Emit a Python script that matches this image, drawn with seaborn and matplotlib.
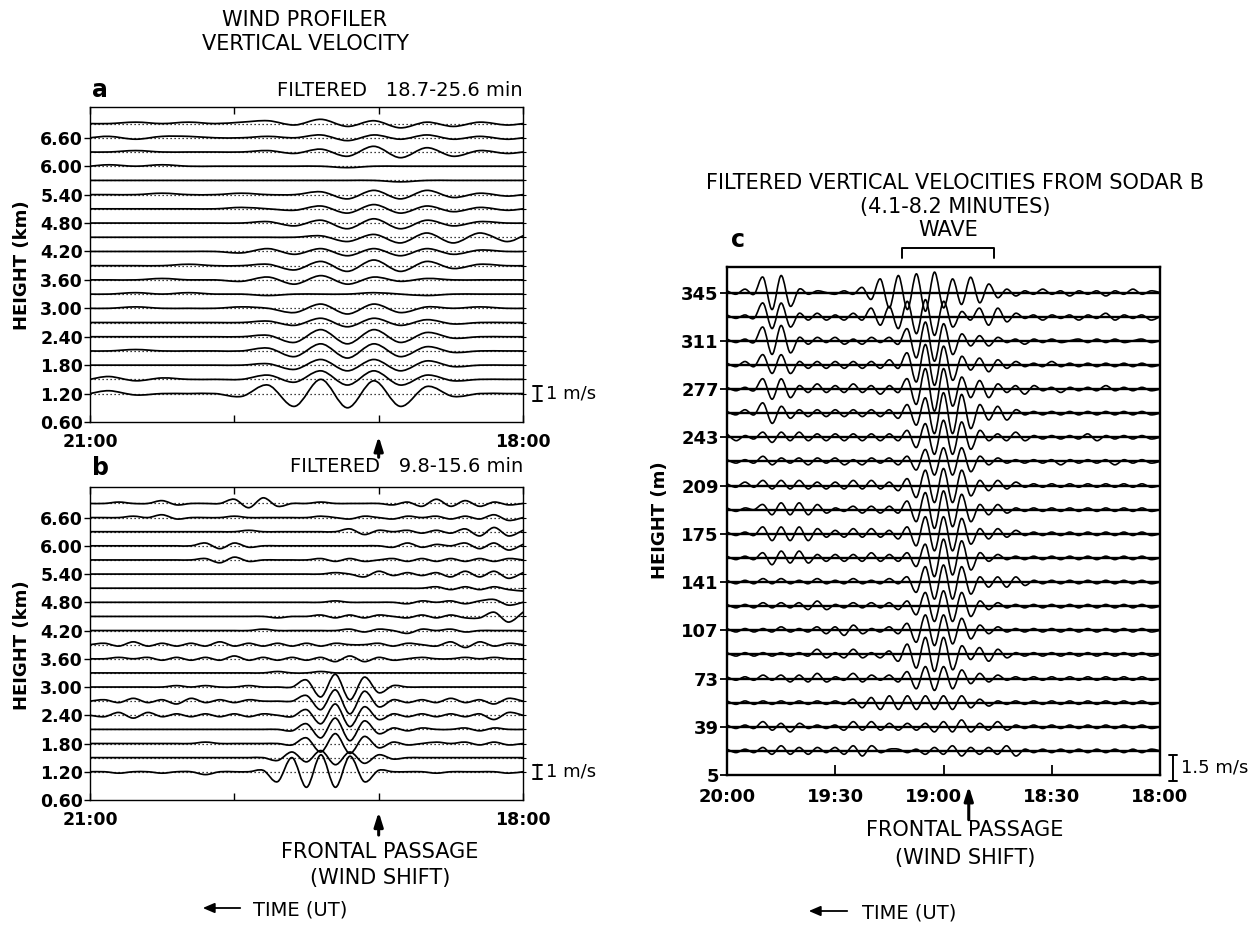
import matplotlib
matplotlib.use("Agg")
import matplotlib.pyplot as plt
import matplotlib.transforms as mtransforms
from matplotlib.path import Path
from matplotlib.patches import PathPatch, FancyArrowPatch
import numpy as np
import pandas as pd
import seaborn as sns

W, H = 1256, 932

# ---------------- data ----------------
# time = minutes after 18:00 UT (axes run right-to-left)
time_a = [180, 172, 161, 150, 139, 128, 117, 106, 95, 84, 73, 62, 51, 40, 29, 18, 7, 0]
time_b = [180 - 6 * j for j in range(31)]
time_c = [120 - 2.5 * k for k in range(49)]

heights_ab = [6.90, 6.60, 6.30, 6.00, 5.70, 5.40, 5.10, 4.80, 4.50, 4.20,
              3.90, 3.60, 3.30, 3.00, 2.70, 2.40, 2.10, 1.80, 1.50, 1.20]
height_ticks_ab = [0.60, 1.20, 1.80, 2.40, 3.00, 3.60, 4.20, 4.80, 5.40, 6.00, 6.60]
heights_c = [345, 328, 311, 294, 277, 260, 243, 226, 209, 192,
             175, 158, 141, 124, 107, 90, 73, 56, 39, 22]
height_ticks_c = [5, 39, 73, 107, 141, 175, 209, 243, 277, 311, 345]

time_ticks_ab = [180, 120, 60, 0]
time_labels_ab = ["21:00", "", "", "18:00"]
time_ticks_c = [120, 90, 60, 30, 0]
time_labels_c = ["20:00", "19:30", "19:00", "18:30", "18:00"]

FRONT_AB = 60      # frontal passage (minutes after 18:00)
FRONT_C = 53
WAVE_START, WAVE_END = 71.5, 46

# vertical velocity, units of 0.1 m/s  -- panel a (18.7-25.6 min)
a690 = [0, 0, 1, 0, 1, 0, 1, 2, -1, 3, -2, 2, -3, 1, -2, 1, -1, 0]
a660 = [0, 1, -1, 1, 1, 0, 0, 1, 0, 2, -2, 2, -1, 2, -1, 1, -1, 0]
a630 = [0, 0, 1, 0, 0, 0, 0, 1, -1, 2, -3, 4, -4, 3, -3, 1, -1, 0]
a600 = [0, 1, 0, 1, 0, 0, 0, 0, 0, 0, -1, 0, 0, 0, 0, 0, 0, 0]
a570 = [0, 0, 0, 0, 0, 0, 0, 0, 0, 0, 0, 0, -1, 0, 0, 0, 0, 0]
a540 = [0, 0, 0, 1, 0, 0, 1, 0, 0, 2, -3, 3, -3, 3, -2, 1, -1, 0]
a510 = [0, 0, 0, 0, 0, 0, 1, 0, -1, 2, -3, 3, -3, 2, -2, 1, -1, 0]
a480 = [0, 0, 0, 0, 0, 0, 0, 1, -2, 2, -4, 3, -4, 2, -2, 1, 0, 0]
a450 = [0, 0, 0, 0, 0, 0, 0, 0, 0, 1, -3, 2, -4, 3, -4, 3, -3, 1]
a420 = [0, 0, 0, 0, 0, 0, -1, 2, -2, 2, -3, 2, -3, 2, -2, 1, 0, 0]
a390 = [0, 0, 0, 0, 1, 0, 0, 1, -3, 3, -4, 4, -4, 3, -2, 1, 0, 0]
a360 = [0, 0, 0, 1, 0, 0, -1, 2, -3, 3, -3, 2, -1, 1, 0, 0, 0, 0]
a330 = [0, 0, 1, 0, 1, 0, 0, -1, 0, 0, 0, 1, 0, -1, 0, 0, 0, 0]
a300 = [0, 0, 1, 0, 0, 0, 1, 0, -3, 3, -4, 3, -3, 1, 0, 1, 0, 0]
a270 = [0, 0, 0, 0, 0, 0, 0, 1, -2, 3, -3, 3, -2, 2, -1, 0, 0, 0]
a240 = [0, 0, 0, 0, 0, 0, 0, 1, -4, 5, -5, 5, -4, 3, -1, 0, 0, 0]
a210 = [0, 0, 1, 0, 0, 0, 0, 2, -4, 5, -5, 5, -4, 3, -1, 0, 0, 0]
a180 = [0, 0, 0, 0, 0, 0, 0, 1, -3, 4, -4, 4, -4, 3, -1, 0, 0, 0]
a150 = [0, 2, -1, 1, 0, 0, 0, 3, -2, 6, -4, 6, -4, 3, -1, 0, 0, 0]
a120 = [0, 2, -1, 0, 0, 0, -2, 6, -9, 10, -10, 9, -9, 5, -2, 0, 0, 0]

# panel b (9.8-15.6 min)
b690 = [0, 0, 1, 0, 0, 2, -1, 0, 0, 0, 3, -3, 4, -2, 0, 0, 1, 0, 0, 0, 0, -1, 1, -2, 3, -2, 2, -2, 1, -1, 0]
b660 = [0, 0, 0, 1, 0, 2, -1, 0, 0, 0, 1, 0, 0, 0, 0, 0, 1, 0, -1, 1, 0, -1, 1, 0, 1, -1, 1, -1, 2, -2, 0]
b630 = [0, 0, 0, 0, 0, 0, 0, 0, 0, 0, 0, 1, 0, 0, 0, 0, 0, 0, 2, -2, 1, 0, 1, -1, 1, -1, 2, -3, 3, -3, 1]
b600 = [0, 0, 0, 0, 0, 0, 0, 0, 2, -2, 2, -1, 0, 0, 0, 0, 0, 0, 0, 0, 0, -1, 2, -1, 1, 0, 2, -2, 2, -3, 1]
b570 = [0, 0, 0, 0, 0, 0, 0, 0, 1, -2, 2, -1, 0, 0, 0, 0, 1, -1, 1, -1, 0, 1, -1, 1, -1, 1, -1, 1, -1, 1, 0]
b540 = [0, 0, 0, 0, 0, 0, 0, 0, 0, 0, 0, 0, 0, 0, 0, 0, 0, 1, 0, -2, 2, -1, 1, -1, 1, -2, 2, -2, 2, -3, 1]
b510 = [0, 0, 0, 0, 0, 0, 0, 0, 0, 0, 0, 0, 0, 0, 0, 0, 0, 0, 0, 0, 0, 0, 0, 0, 1, -1, 1, -1, 1, -1, -2]
b480 = [0, 0, 0, 0, 0, 0, 0, 0, 0, 0, 0, 0, 0, 0, 0, 0, 0, 1, 0, 0, 0, 0, -1, 1, 0, 1, -1, 1, 2, -2, 0]
b450 = [0, 0, 0, 0, 0, 0, 0, 0, 0, 0, 0, 0, 0, -1, 0, 0, 1, -1, 1, -1, 1, 0, -1, 1, -1, 1, -1, -1, 3, -4, 3]
b420 = [0, 0, 0, 0, 0, 0, 0, 0, 0, 0, 0, 0, 1, 0, 0, 0, 0, 0, 1, -1, 1, 0, -2, 1, 0, 1, -1, 0, 0, 0, 0]
b390 = [0, 1, -1, 2, -1, 1, -1, 1, -1, 2, -1, 1, -1, 1, -1, 1, -1, 1, 0, 0, 1, -1, 1, 0, -1, 2, -2, 2, -1, 1, 0]
b360 = [0, 0, 1, 0, 1, -1, 1, -1, 1, -1, 2, -1, 1, -1, 1, -1, 1, -2, 2, -2, 1, -1, 0, 1, 0, 0, 1, 0, 1, 0, 0]
b330 = [0, 0, 0, 0, 0, 0, 0, 0, 0, 0, 0, 0, 0, 1, 0, 0, 1, 0, 0, 0, 0, 0, 0, 0, 0, 0, 0, 0, 0, 0, 0]
b300 = [0, 0, 0, 0, 0, 0, 1, 0, 1, 0, 0, 1, 0, 0, 0, 5, -7, 9, -9, 7, -4, 1, 0, 0, 0, 0, 0, 0, 0, 0, 0]
b270 = [0, 1, -1, 2, -1, 1, -2, 2, -1, 1, -1, 1, 0, 0, 0, 4, -6, 8, -9, 7, -4, 1, -1, 1, -1, 2, -1, 1, -2, 2, 0]
b240 = [0, -1, 2, -2, 2, -1, 1, -1, 1, -1, 1, -1, 1, 0, -1, 4, -6, 8, -8, 6, -3, 1, -1, 1, -1, 1, -1, 1, -3, 2, 0]
b210 = [0, 0, 0, 0, 0, 0, 0, 0, 0, 0, 0, 0, 0, 0, -1, 4, -6, 8, -8, 6, -3, 1, -1, 1, 0, 0, 1, -1, 1, 0, 0]
b180 = [0, 0, 0, 0, 0, 0, 0, 0, 1, 0, 0, 0, 0, 0, -1, 4, -6, 7, -7, 5, -3, 1, -1, 0, 1, 0, 1, -1, 1, -1, 0]
b150 = [0, 0, 0, 0, 0, 0, 0, 0, 0, 0, 0, 0, 0, -2, 4, -3, 5, -5, 4, -4, 2, -1, 0, 0, 0, 0, 0, 0, 0, 0, 0]
b120 = [0, 0, -1, 0, 0, -1, 0, 0, -2, 0, 0, 0, 1, -7, 10, -11, 12, -11, 11, -7, 1, 0, 0, 0, -1, 0, 0, 0, 0, -1, 0]

# panel c (sodar B, 4.1-8.2 min)
c345 = [1, -1, 2, -1, 9, -10, 10, -8, 2, -1, 1, 0, -1, 1, -1, 3, -4, 8, -9, 10, -10, 11, -11, 12, -9, 8, -7, 9, -6, 5,
        -3, 2, -2, 1, -1, 2, -1, 1, -2, 1, -1, 1, -2, 1, -1, 2, -1, 1, 0]
c328 = [1, -1, 1, -1, 8, -7, 8, -6, 2, -2, 2, -2, 1, -2, 2, -2, 5, -5, 6, -7, 9, -10, 10, -11, 9, -6, 3, -2, 5, -5,
        5, -3, 2, -1, 1, -2, 1, -1, 1, -2, 1, -1, 2, -2, 1, -1, 1, -2, 0]
c311 = [1, -1, 1, -1, 8, -8, 9, -7, 2, -2, 2, -1, 2, -2, 1, -2, 2, -1, 2, -2, 7, -10, 11, -12, 10, -8, 4, -3, 3, -3,
        2, -1, 1, -2, 1, -1, 1, -1, 0, 1, -1, 1, -1, 1, -1, 0, 1, -1, 0]
c294 = [1, -1, 2, -1, 6, -5, 6, -5, 2, -2, 2, -2, 2, -2, 2, -2, 2, -2, 3, -2, 7, -10, 12, -12, 11, -9, 5, -3, 4, -4,
        3, -2, 2, -1, 1, -1, 2, -1, 1, -1, 1, -1, 1, -1, 1, -1, 1, -1, 0]
c277 = [1, -1, 1, -1, 6, -6, 6, -5, 2, -2, 3, -2, 2, -2, 3, -2, 2, -3, 2, -2, 6, -9, 12, -13, 12, -10, 7, -5, 5, -5,
        3, -2, 2, -3, 2, -1, 1, -2, 1, -1, 1, -1, 2, -1, 1, -1, 1, -1, 0]
c260 = [1, -1, 2, -1, 6, -6, 4, -3, 2, -2, 2, -2, 2, -2, 2, -2, 2, -2, 2, -3, 5, -7, 9, -12, 12, -12, 11, -9, 5, -4,
        4, -4, 2, -1, 1, -1, 1, -1, 1, -1, 1, -1, 1, -1, 1, -1, 1, -1, 0]
c243 = [2, -2, 1, -1, 3, -3, 3, -2, 3, -2, 2, -2, 2, -2, 2, -2, 2, -2, 2, -2, 4, -6, 8, -10, 10, -10, 9, -7, 4, -2,
        2, -2, 3, -2, 1, -1, 1, -1, 1, -1, 2, -2, 1, -1, 1, -1, 1, -1, 0]
c226 = [1, -1, 1, -1, 3, -2, 2, -1, 2, -2, 2, -1, 2, -2, 1, -2, 2, -1, 2, -2, 3, -5, 7, -8, 8, -8, 8, -6, 3, -2,
        2, -1, 1, -1, 1, -1, 1, -2, 1, -1, 1, -1, 1, -2, 1, -1, 1, -1, 0]
c209 = [1, -1, 2, -1, 3, -2, 3, -2, 3, -2, 2, -2, 2, -2, 3, -2, 3, -2, 2, -3, 4, -7, 9, -10, 10, -10, 9, -6, 3, -3,
        3, -2, 2, -1, 1, -1, 1, -1, 1, -1, 1, -1, 1, -1, 1, -1, 1, -1, 0]
c192 = [1, -1, 1, 0, 3, -3, 4, -3, 4, -3, 3, -2, 1, -1, 2, -2, 2, -2, 2, -2, 5, -7, 10, -11, 11, -10, 9, -7, 3, -3,
        3, -2, 1, -1, 1, -1, 1, -1, 1, -1, 1, -1, 1, -1, 1, -1, 1, -1, 0]
c175 = [1, -1, 1, -1, 4, -4, 4, -4, 4, -4, 3, -2, 2, -2, 3, -2, 3, -2, 2, -3, 4, -7, 10, -10, 10, -10, 9, -6, 3, -3,
        3, -2, 2, -1, 1, -1, 1, -1, 1, -1, 1, -1, 1, -1, 1, -1, 1, -1, 0]
c158 = [1, -1, 1, -1, 3, -4, 4, -3, 4, -3, 2, -2, 2, -2, 2, -2, 3, -2, 2, -2, 3, -5, 8, -11, 11, -10, 10, -7, 3, -2,
        2, -1, 1, -1, 1, -1, 1, -1, 1, -1, 1, -1, 1, -1, 1, -1, 1, -1, 0]
c141 = [1, -1, 1, -1, 2, -1, 2, -1, 1, -1, 2, -1, 1, -1, 2, -1, 1, -1, 2, -1, 3, -6, 9, -10, 10, -10, 9, -7, 3, -3,
        3, -3, 3, -2, 1, -1, 1, -1, 1, -1, 1, -1, 1, -1, 1, -1, 1, -1, 0]
c124 = [1, -1, 1, -1, 2, -1, 2, -1, 2, -2, 3, -2, 1, -1, 2, -1, 2, -1, 2, -2, 3, -5, 8, -9, 9, -9, 8, -6, 3, -2,
        2, -1, 1, -1, 1, -1, 1, -1, 1, -1, 1, -1, 1, -1, 1, -1, 1, -1, 0]
c107 = [1, -1, 1, -1, 1, -1, 2, -1, 1, -1, 2, -2, 2, -3, 3, -2, 1, -1, 2, -2, 4, -7, 9, -9, 9, -8, 7, -5, 3, -2,
        2, -1, 1, -1, 1, -1, 1, -1, 1, -1, 1, -1, 1, -1, 1, -1, 1, -1, 0]
c90 = [1, -1, 1, -1, 1, -1, 1, -1, 1, -1, 3, -2, 1, -2, 3, -2, 1, -2, 2, -4, 6, -8, 10, -10, 10, -9, 5, -3, 4, -4,
       3, -2, 1, -1, 1, -1, 1, -1, 1, -1, 1, -1, 1, -1, 1, -1, 1, -1, 0]
c73 = [1, -1, 1, -1, 2, -1, 2, -2, 2, -2, 3, -2, 1, -1, 3, -2, 2, -1, 2, -2, 4, -6, 7, -7, 7, -6, 5, -3, 3, -2,
       2, -1, 1, -1, 1, -1, 1, -1, 1, -1, 1, -1, 1, -1, 1, -1, 1, -1, 0]
c56 = [1, -1, 1, -1, 1, -1, 1, -1, 1, -1, 1, -1, 1, -1, 2, -3, 3, -4, 4, -4, 4, -4, 4, -4, 4, -4, 4, -3, 2, -2,
       1, -1, 1, -1, 1, -1, 1, -1, 1, -1, 1, -1, 1, -1, 1, -1, 1, -1, 0]
c39 = [1, -1, 1, -1, 3, -2, 2, -3, 2, -1, 1, -1, 1, -2, 3, -2, 3, -2, 2, -2, 2, -2, 2, -3, 3, -3, 4, -3, 2, -2,
       3, -2, 1, -1, 1, -1, 1, -1, 1, -1, 1, -1, 1, -1, 1, -1, 1, -1, 0]
c22 = [1, -1, 1, -1, 2, -2, 3, -2, 2, -2, 2, -1, 2, -2, 3, -3, 3, -1, 1, 1, -1, 1, -2, 2, -2, 3, -3, 2, -2, 2,
       -2, 3, -3, 1, -1, 1, -1, 1, -1, 1, -1, 1, -1, 1, -1, 1, -1, 1, 0]

traces_a = [a690, a660, a630, a600, a570, a540, a510, a480, a450, a420,
            a390, a360, a330, a300, a270, a240, a210, a180, a150, a120]
traces_b = [b690, b660, b630, b600, b570, b540, b510, b480, b450, b420,
            b390, b360, b330, b300, b270, b240, b210, b180, b150, b120]
traces_c = [c345, c328, c311, c294, c277, c260, c243, c226, c209, c192,
            c175, c158, c141, c124, c107, c90, c73, c56, c39, c22]

SCALE_AB = 0.03   # km per 0.1 m/s  (1 m/s = 0.30 km)
SCALE_C = 1.2     # m per 0.1 m/s   (1 m/s = 12 m)

# ---------------- figure ----------------
sns.set_theme(style="ticks")
plt.rcParams["font.family"] = ["DejaVu Sans"]
plt.rcParams["axes.linewidth"] = 1.0
for key in ("text.color", "axes.labelcolor", "xtick.color", "ytick.color", "axes.edgecolor"):
    plt.rcParams[key] = "black"

fig = plt.figure(figsize=(W / 100, H / 100), dpi=100)
fig.patch.set_facecolor("white")


def box(l, t, r, b):
    return [l / W, 1 - b / H, (r - l) / W, (b - t) / H]


ax_a = fig.add_axes(box(90, 107, 523, 422))
ax_b = fig.add_axes(box(90, 487, 523, 800))
ax_c = fig.add_axes(box(727, 267, 1160, 775))


def frame(times, heights, traces, scale):
    n = len(times)
    rows = []
    for h, vals in zip(heights, traces):
        vals = (list(vals) + [0] * n)[:n]
        for t, v in zip(times, vals):
            rows.append((h, t, h + v * scale))
    return pd.DataFrame(rows, columns=["height", "time", "y"])


def smooth(ax, line):
    """Render a seaborn line as a smooth (Catmull-Rom) curve through its own points."""
    xy = np.asarray(line.get_xydata(), dtype=float)
    n = len(xy)
    verts = [xy[0]]
    codes = [Path.MOVETO]
    for i in range(n - 1):
        p0 = xy[i - 1] if i > 0 else xy[i]
        p1, p2 = xy[i], xy[i + 1]
        p3 = xy[i + 2] if i + 2 < n else xy[i + 1]
        verts += [p1 + (p2 - p0) / 6.0, p2 - (p3 - p1) / 6.0, p2]
        codes += [Path.CURVE4] * 3
    patch = PathPatch(Path(verts, codes), fill=False, lw=line.get_linewidth(),
                      edgecolor=line.get_color(), zorder=line.get_zorder(),
                      capstyle="round", joinstyle="round")
    ax.add_patch(patch)
    line.set_visible(False)


def draw(ax, times, heights, traces, scale, dotted):
    df = frame(times, heights, traces, scale)
    if dotted:
        ax.hlines(heights, times[0], times[-1], colors="black",
                  linestyles=(0, (1, 2.2)), lw=0.9, zorder=1)
        lw = 1.25
    else:
        ax.hlines(heights, times[0], times[-1], colors="black", lw=1.7, zorder=1)
        lw = 1.2
    n0 = len(ax.lines)
    sns.lineplot(data=df, x="time", y="y", units="height", estimator=None,
                 sort=False, color="black", lw=lw, ax=ax, legend=False, zorder=2)
    for line in list(ax.lines[n0:]):
        smooth(ax, line)
    ax.set_xlabel("")
    ax.set_ylabel("")


draw(ax_a, time_a, heights_ab, traces_a, SCALE_AB, True)
draw(ax_b, time_b, heights_ab, traces_b, SCALE_AB, True)
draw(ax_c, time_c, heights_c, traces_c, SCALE_C, False)

TICKFONT = dict(fontsize=12.5, fontweight="bold")


def setup_ab(ax):
    ax.set_xlim(180, 0)
    ax.set_ylim(0.60, 7.25)
    ax.set_xticks(time_ticks_ab)
    ax.set_xticklabels(time_labels_ab, **TICKFONT)
    ax.tick_params(axis="x", which="major", direction="in", length=5,
                   top=True, bottom=True, pad=8, width=1.0)
    ax.set_yticks(height_ticks_ab)
    ax.set_yticklabels([f"{v:.2f}" for v in height_ticks_ab], **TICKFONT)
    ax.tick_params(axis="y", which="major", direction="out", length=4,
                   left=True, right=False, pad=1, width=1.0)
    ax.yaxis.remove_overlapping_locs = False
    ax.set_yticks(heights_ab, minor=True)
    ax.tick_params(axis="y", which="minor", direction="inout", length=5,
                   left=False, right=True, width=0.8)
    for s in ax.spines.values():
        s.set_linewidth(1.0)
        s.set_color("black")


setup_ab(ax_a)
setup_ab(ax_b)

ax_c.set_xlim(120, 0)
ax_c.set_ylim(5, 363)
ax_c.set_xticks(time_ticks_c)
ax_c.set_xticklabels(time_labels_c, fontsize=13, fontweight="bold")
ax_c.tick_params(axis="x", direction="in", length=7, width=1.3, pad=9)
ax_c.set_yticks(height_ticks_c)
ax_c.set_yticklabels([str(v) for v in height_ticks_c], fontsize=13, fontweight="bold")
ax_c.tick_params(axis="y", direction="out", length=5, width=1.3, pad=1)
for s in ax_c.spines.values():
    s.set_linewidth(1.7)
    s.set_color("black")
# the 19:00 label sits slightly left of its tick (arrow to its right)
lab = ax_c.get_xticklabels()[2]
lab.set_transform(lab.get_transform() +
                  mtransforms.ScaledTranslation(-0.10, 0, fig.dpi_scale_trans))


# ---- scale bars ----
def scale_bar(ax, t, center, half, label, t_text, fs):
    ax.annotate("", xy=(t, center - half), xytext=(t, center + half),
                arrowprops=dict(arrowstyle="|-|,widthA=0.25,widthB=0.25", lw=1.4,
                                color="black", shrinkA=0, shrinkB=0),
                annotation_clip=False)
    ax.text(t_text, center, label, ha="left", va="center", fontsize=fs,
            clip_on=False)


scale_bar(ax_a, -6, heights_ab[-1], 0.5 * 10 * SCALE_AB, "1 m/s", -9.5, 13)
scale_bar(ax_b, -6, heights_ab[-1], 0.5 * 10 * SCALE_AB, "1 m/s", -9.5, 13)
scale_bar(ax_c, -3.6, 10, 0.5 * 15 * SCALE_C, "1.5 m/s", -5.8, 13)


# ---- frontal passage arrows ----
def front_arrow(ax, t, y0, y1):
    ax.annotate("", xy=(t, y1), xytext=(t, y0),
                xycoords=("data", "axes fraction"), textcoords=("data", "axes fraction"),
                arrowprops=dict(arrowstyle="-|>,head_width=0.22,head_length=0.7",
                                lw=2.2, color="black", shrinkA=0, shrinkB=0),
                annotation_clip=False)


front_arrow(ax_a, FRONT_AB, -0.112, -0.045)
front_arrow(ax_b, FRONT_AB, -0.112, -0.038)
front_arrow(ax_c, FRONT_C, -0.088, -0.022)

# ---- wave bracket ----
trans = mtransforms.blended_transform_factory(ax_c.transData, ax_c.transAxes)
ax_c.plot([WAVE_START, WAVE_START, WAVE_END, WAVE_END], [1.018, 1.037, 1.037, 1.018],
          transform=trans, color="black", lw=1.4, clip_on=False)
ax_c.text((WAVE_START + WAVE_END) / 2, 1.072, "WAVE", transform=trans,
          ha="center", va="center", fontsize=15)


# ---- figure texts ----
def ftext(x, y, s, **kw):
    fig.text(x / W, 1 - y / H, s, **kw)


TF = dict(fontsize=15, ha="center", va="center")
ftext(305, 20, "WIND PROFILER", **TF)
ftext(305, 44, "VERTICAL VELOCITY", **TF)
ftext(100, 90, "a", fontsize=17, fontweight="bold", ha="center", va="center")
ftext(523, 90, "FILTERED   18.7-25.6 min", fontsize=14, ha="right", va="center")
ftext(100, 468, "b", fontsize=17, fontweight="bold", ha="center", va="center")
ftext(523, 467, "FILTERED   9.8-15.6 min", fontsize=14, ha="right", va="center")
ftext(22, 265, "HEIGHT (km)", fontsize=13, fontweight="bold", rotation=90,
      ha="center", va="center")
ftext(22, 645, "HEIGHT (km)", fontsize=13, fontweight="bold", rotation=90,
      ha="center", va="center")
ftext(380, 852, "FRONTAL PASSAGE", **TF)
ftext(380, 878, "(WIND SHIFT)", **TF)
ftext(253, 910, "TIME (UT)", fontsize=14, ha="left", va="center")

ftext(955, 183, "FILTERED VERTICAL VELOCITIES FROM SODAR B", **TF)
ftext(955, 207, "(4.1-8.2 MINUTES)", **TF)
ftext(738, 240, "c", fontsize=17, fontweight="bold", ha="center", va="center")
ftext(660, 520, "HEIGHT (m)", fontsize=13, fontweight="bold", rotation=90,
      ha="center", va="center")
ftext(965, 830, "FRONTAL PASSAGE", **TF)
ftext(965, 858, "(WIND SHIFT)", **TF)
ftext(862, 913, "TIME (UT)", fontsize=14, ha="left", va="center")

for (x0, x1, y) in [(243, 200, 908), (850, 806, 911)]:
    fig.add_artist(FancyArrowPatch(
        (x0 / W, 1 - y / H), (x1 / W, 1 - y / H), transform=fig.transFigure,
        arrowstyle="-|>,head_width=3,head_length=7", lw=1.3, color="black"))

fig.savefig("out.png", dpi=100, facecolor="white")
